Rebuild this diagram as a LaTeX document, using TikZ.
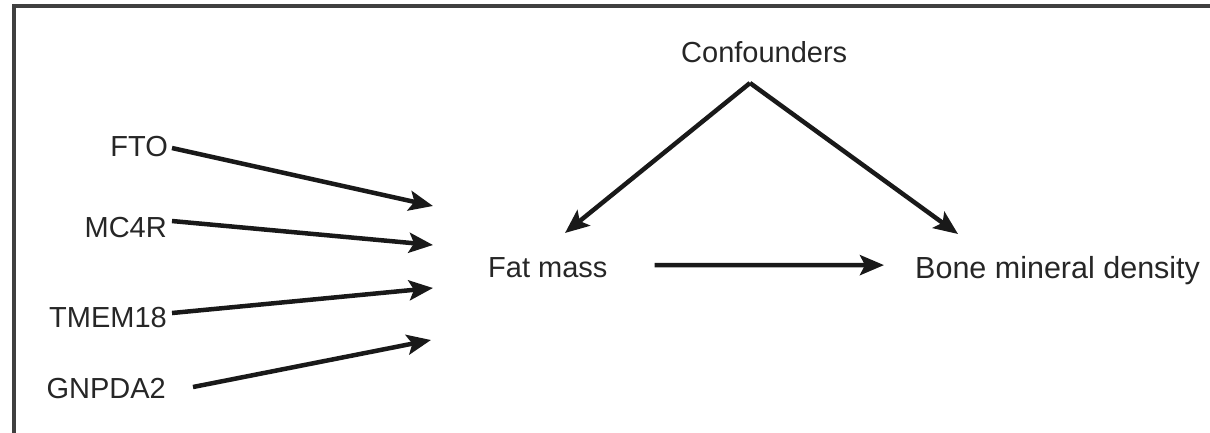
\documentclass[tikz,border=0pt]{standalone}
\usepackage{fontspec}
\setmainfont{Liberation Sans}
\usetikzlibrary{arrows.meta}
\begin{document}
\begin{tikzpicture}[x=1pt,y=-1pt,
  lbl/.style={inner sep=0pt,font=\fontsize{29}{34}\selectfont,text=black!85},
  arr/.style={line width=4.5pt,black!90,-{Stealth[length=24pt,width=20pt,inset=5pt]}},
  frame/.style={line width=4pt,black!75}]
\useasboundingbox (0,0) rectangle (1210,433);
\draw[frame] (14,433) -- (14,6) -- (1210,6);
% labels
\node[lbl,anchor=base east] (fto) at (168,157) {FTO};
\node[lbl,anchor=base east] (mc4r) at (167,237) {MC4R};
\node[lbl,anchor=base east] (tmem) at (167,327) {TMEM18};
\node[lbl,anchor=base east] (gnp) at (166,398) {GNPDA2};
\node[lbl,anchor=base west] (fat) at (488,277) {Fat mass};
\node[lbl,anchor=base west,font=\fontsize{30.5}{36}\selectfont] (bmd) at (915,278) {Bone mineral density};
\node[lbl,anchor=base west] (conf) at (681,63) {Confounders};
% arrow targets
\coordinate (t1) at (433,206);
\coordinate (t2) at (433,245);
\coordinate (t3) at (433,288);
\coordinate (t4) at (431,340);
\coordinate (apex) at (750,83);
\coordinate (tf) at (565,233);
\coordinate (tb) at (958,234);
\draw[arr] ([xshift=4pt,yshift=-1pt]fto.east) -- (t1);
\draw[arr] ([xshift=5pt,yshift=6pt]mc4r.east) -- (t2);
\draw[arr] ([xshift=5pt,yshift=4pt]tmem.east) -- (t3);
\draw[arr] ([xshift=27pt,yshift=1pt]gnp.east) -- (t4);
\draw[arr] ([xshift=47pt,yshift=2pt]fat.east) -- ([xshift=-31pt,yshift=5pt]bmd.west);
\draw[arr] (apex) -- (tf);
\draw[arr] (apex) -- (tb);
\end{tikzpicture}
\end{document}
